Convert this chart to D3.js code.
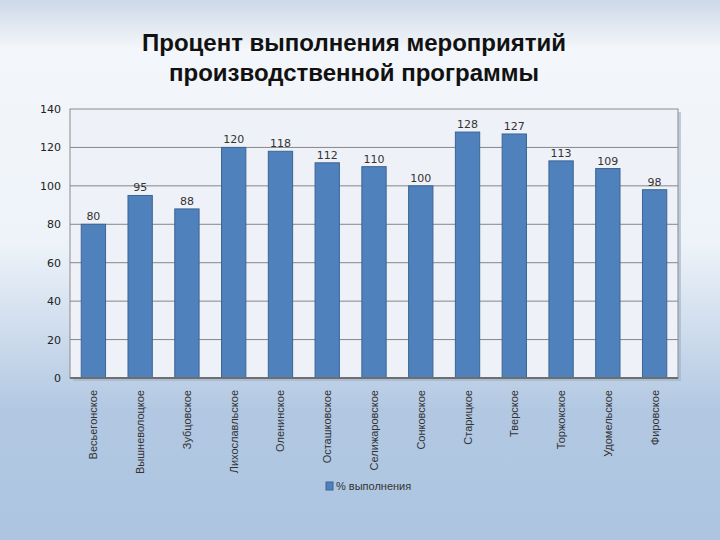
<!DOCTYPE html>
<html>
<head>
	<meta charset="utf-8">
	<script src="https://cdnjs.cloudflare.com/ajax/libs/d3/7.8.5/d3.min.js"></script>
	<style>
		body { margin: 0; }
		svg { display: block; font-family: "Liberation Sans", Arial, sans-serif; }
	</style>
</head>
<body>
	<svg width="720" height="540" id="chart"></svg>
	<script>
	//chart data
	var districts = ["Весьегонское", "Вышневолоцкое", "Зубцовское", "Лихославльское", "Оленинское",
		"Осташковское", "Селижаровское", "Сонковское", "Старицкое", "Тверское",
		"Торжокское", "Удомельское", "Фировское"];
	var percentDone = [80, 95, 88, 120, 118, 112, 110, 100, 128, 127, 113, 109, 98];
	var yTicks = [0, 20, 40, 60, 80, 100, 120, 140];
	var seriesName = "% выполнения";

	var svg = d3.select("svg"),
		margin = {top: 109, right: 42, bottom: 162, left: 70},
		width = svg.attr("width") - margin.left - margin.right,
		height = svg.attr("height") - margin.top - margin.bottom;

	//background gradient
	var defs = svg.append("defs");
	var bg = defs.append("linearGradient").attr("id", "bg").attr("x1", 0).attr("y1", 0).attr("x2", 0).attr("y2", 1);
	bg.append("stop").attr("offset", "0%").attr("stop-color", "#cdd9e8");
	bg.append("stop").attr("offset", "9%").attr("stop-color", "#f3f6fa");
	bg.append("stop").attr("offset", "45%").attr("stop-color", "#eef3f9");
	bg.append("stop").attr("offset", "76%").attr("stop-color", "#b2c8e2");
	bg.append("stop").attr("offset", "100%").attr("stop-color", "#adc5e1");
	svg.append("rect").attr("width", 720).attr("height", 540).attr("fill", "url(#bg)");

	//title
	var title = svg.append("text")
		.attr("text-anchor", "middle")
		.attr("font-weight", "bold")
		.attr("font-size", "24px")
		.attr("fill", "#111");
	title.append("tspan").attr("x", 354).attr("y", 51).text("Процент выполнения мероприятий");
	title.append("tspan").attr("x", 354).attr("y", 81).text("производственной программы");

	//scales
	var x = d3.scaleBand().domain(districts).range([0, width]).paddingInner(0.48).paddingOuter(0.24),
		y = d3.scaleLinear().domain([0, 140]).range([height, 0]);

	var g = svg.append("g").attr("transform", "translate(" + margin.left + "," + margin.top + ")");

	//plot area with shadow
	g.append("rect").attr("x", 3).attr("y", 3).attr("width", width).attr("height", height)
		.attr("fill", "#9fb0c6").attr("opacity", 0.6);
	g.append("rect").attr("width", width).attr("height", height)
		.attr("fill", "#eef1f8").attr("stroke", "#8c8c8c").attr("stroke-width", 1);

	//gridlines
	g.selectAll(".grid").data(yTicks.slice(1, -1)).enter().append("line")
		.attr("x1", 0).attr("x2", width)
		.attr("y1", function(d) { return y(d); }).attr("y2", function(d) { return y(d); })
		.attr("stroke", "#868686").attr("stroke-width", 1);

	//y axis
	var yAxis = g.append("g")
		.call(d3.axisLeft(y).tickValues(yTicks).tickSize(0).tickPadding(9));
	yAxis.select(".domain").remove();
	yAxis.selectAll("text").attr("font-size", "11px").attr("fill", "#222")
		.attr("font-family", "'DejaVu Sans', sans-serif");

	//bars
	g.selectAll(".bar").data(percentDone).enter().append("rect")
		.attr("x", function(d, i) { return x(districts[i]); })
		.attr("y", function(d) { return y(d); })
		.attr("width", x.bandwidth())
		.attr("height", function(d) { return height - y(d); })
		.attr("fill", "#4f81bd")
		.attr("stroke", "#3c6594").attr("stroke-width", 1);

	//bottom axis line
	g.append("line").attr("x1", 0).attr("x2", width).attr("y1", height).attr("y2", height)
		.attr("stroke", "#6e6e6e").attr("stroke-width", 2);

	//value labels
	g.selectAll(".val").data(percentDone).enter().append("text")
		.attr("x", function(d, i) { return x(districts[i]) + x.bandwidth() / 2; })
		.attr("y", function(d) { return y(d) - 4; })
		.attr("text-anchor", "middle")
		.attr("font-size", "11px")
		.attr("font-family", "'DejaVu Sans', sans-serif")
		.attr("fill", "#333")
		.text(function(d) { return d; });

	//category labels
	g.selectAll(".cat").data(districts).enter().append("text")
		.attr("transform", function(d) {
			return "translate(" + (x(d) + x.bandwidth() / 2 + 4) + "," + (height + 12) + ") rotate(-90)";
		})
		.attr("text-anchor", "end")
		.attr("font-size", "11px")
		.attr("fill", "#333")
		.text(function(d) { return d; });

	//legend
	var legend = svg.append("g").attr("transform", "translate(326,482)");
	legend.append("rect").attr("width", 7).attr("height", 8)
		.attr("fill", "#4f81bd").attr("stroke", "#3c6594");
	legend.append("text").attr("x", 10).attr("y", 8)
		.attr("font-size", "11px").attr("fill", "#333")
		.text(seriesName);
	</script>
</body>
</html>
